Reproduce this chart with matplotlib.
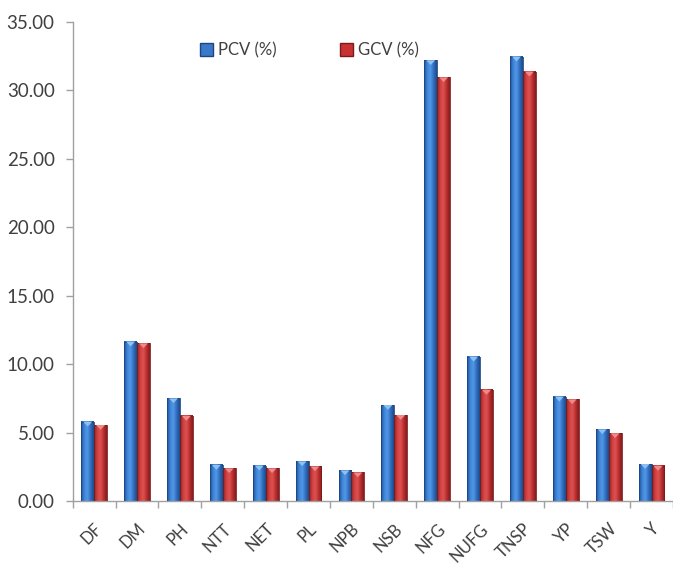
import numpy as np
import matplotlib.pyplot as plt
from matplotlib.colors import LinearSegmentedColormap
from matplotlib.patches import Patch

traits = ['DF', 'DM', 'PH', 'NTT', 'NET', 'PL', 'NPB', 'NSB', 'NFG', 'NUFG',
          'TNSP', 'YP', 'TSW', 'Y']
pcv = [5.79, 11.64, 7.50, 2.63, 2.58, 2.90, 2.24, 7.01, 32.20, 10.54,
       32.46, 7.62, 5.24, 2.70]
gcv = [5.55, 11.52, 6.21, 2.39, 2.39, 2.53, 2.09, 6.28, 30.95, 8.11,
       31.36, 7.43, 4.95, 2.56]

plt.rcParams['font.family'] = ['Lato', 'DejaVu Sans']

fig = plt.figure(figsize=(6.73, 5.65), dpi=100)
ax = fig.add_axes([0.108, 0.1133, 0.892, 0.848])

# cylinder-like shading for the bars
blue_cm = LinearSegmentedColormap.from_list(
    'b', ['#1f4f94', '#3f86da', '#5398e6', '#306cbc', '#1c4a8a'])
red_cm = LinearSegmentedColormap.from_list(
    'r', ['#8e1f1f', '#d24040', '#de5252', '#b92e2e', '#861c1c'])
grad = np.linspace(0, 1, 64).reshape(1, -1)

w = 0.30
x = np.arange(len(traits))


def draw_bars(xs, vals, cmap, edge, cap):
    for xi, v in zip(xs, vals):
        ax.imshow(grad, cmap=cmap, aspect='auto', extent=[xi, xi + w, 0, v],
                  zorder=2, interpolation='bicubic')
        ax.plot([xi, xi, xi + w, xi + w], [0, v, v, 0], color=edge, lw=0.6,
                zorder=3)
        # small light cap at top
        ax.fill([xi + w * 0.15, xi + w * 0.85, xi + w * 0.5],
                [v, v, v - 0.35], color=cap, lw=0, zorder=3)


draw_bars(x - w, pcv, blue_cm, '#1d4680', '#8ec0f0')
draw_bars(x, gcv, red_cm, '#7a1a1a', '#f08a8a')

ax.set_xlim(-0.5, 13.21)
ax.set_ylim(0, 35)
ax.set_yticks(np.arange(0, 36, 5))
ax.set_yticklabels(['%.2f' % t for t in np.arange(0, 36, 5)], fontsize=13.5,
                   color='#404040')
ax.set_xticks(x)
ax.set_xticklabels(traits, rotation=45, ha='right', rotation_mode='anchor',
                   fontsize=12, color='#404040')
ax.set_xticks(np.arange(-0.5, len(traits), 1), minor=True)
ax.tick_params(axis='x', which='major', length=0, pad=14)
ax.tick_params(axis='x', which='minor', length=5, color='#a0a0a0', width=1)
ax.tick_params(axis='y', length=5, color='#a0a0a0', width=1, pad=8)

for s in ['top', 'right']:
    ax.spines[s].set_visible(False)
for s in ['left', 'bottom']:
    ax.spines[s].set_color('#a0a0a0')
    ax.spines[s].set_linewidth(1)

handles = [Patch(facecolor='#3a78c8', edgecolor='#1d4680', label='PCV (%)'),
           Patch(facecolor='#c83232', edgecolor='#7a1a1a', label='GCV (%)')]
fig.legend(handles=handles, loc='center left', bbox_to_anchor=(0.275, 0.911),
           ncol=2, frameon=False, fontsize=12, handlelength=0.75,
           handleheight=0.75, handletextpad=0.3, columnspacing=3.85,
           labelcolor='#404040')

fig.savefig('out.png', dpi=100)
